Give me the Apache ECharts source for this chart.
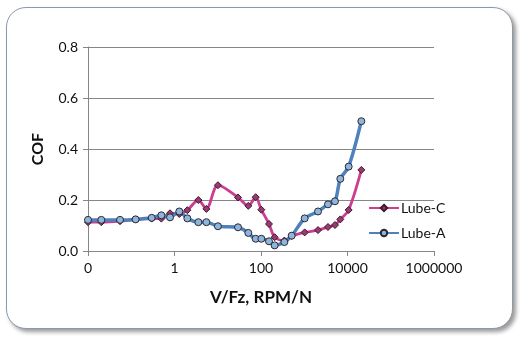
<!DOCTYPE html>
<html>
<head>
<meta charset="utf-8">
<script src="https://cdn.jsdelivr.net/npm/echarts@6/dist/echarts.min.js"></script>
<style>
html,body{margin:0;padding:0;background:#fff;}
#wrap{position:relative;width:521px;height:337px;overflow:hidden;}
#box{position:absolute;left:6px;top:7px;width:505px;height:320px;border:1px solid #8c99a6;border-radius:20px;box-shadow:3px 3px 4px #9a9a9a;background:#fff;}
#chart{position:absolute;left:0;top:0;width:521px;height:337px;}
</style>
</head>
<body>
<div id="wrap"><div id="box"></div><div id="chart"></div></div>
<script>
var xValues = [0.01, 0.0203, 0.055, 0.126, 0.297, 0.497, 0.787, 1.29, 1.98, 3.56, 5.45, 10.1, 29.4, 50.9, 75.3, 101.8, 153, 207, 347, 512, 1023, 2080, 3540, 5140, 6820, 10640, 20900];
var lubeC = [0.113, 0.113, 0.117, 0.124, 0.127, 0.127, 0.148, 0.145, 0.160, 0.200, 0.165, 0.258, 0.210, 0.177, 0.211, 0.162, 0.106, 0.054, 0.041, 0.059, 0.073, 0.082, 0.094, 0.102, 0.124, 0.161, 0.318];
var lubeA = [0.122, 0.122, 0.122, 0.124, 0.130, 0.140, 0.132, 0.155, 0.128, 0.113, 0.113, 0.097, 0.093, 0.071, 0.048, 0.048, 0.038, 0.022, 0.035, 0.060, 0.128, 0.155, 0.183, 0.195, 0.283, 0.331, 0.509];
var yTicks = [0, 0.2, 0.4, 0.6, 0.8];
var xTickLabels = {'0.01':'0','1':'1','100':'100','10000':'10000','1000000':'1000000'};

function pairs(xs, ys){ return xs.map(function(x,i){ return [x, ys[i]]; }); }

var font = 'Lato, "Open Sans", sans-serif';
var chart = echarts.init(document.getElementById('chart'), null, {renderer:'canvas'});
chart.setOption({
  backgroundColor: 'transparent',
  animation: false,
  grid: {left: 88, top: 47, width: 346, height: 204, containLabel: false},
  legend: {
    orient: 'vertical', left: 368, top: 201, padding: 0, itemWidth: 30, itemHeight: 8, itemGap: 11,
    textStyle: {fontFamily: font, fontSize: 14, color: '#111', padding: [0,0,0,-3]},
    data: ['Lube-C', 'Lube-A']
  },
  xAxis: {
    type: 'log', logBase: 100, min: 0.01, max: 1000000,
    name: 'V/Fz, RPM/N', nameLocation: 'middle', nameGap: 38,
    nameTextStyle: {fontFamily: font, fontSize: 17, fontWeight: 'bold', color: '#111'},
    axisLine: {lineStyle: {color: '#868686', width: 1}},
    axisTick: {show: true, length: 5, lineStyle: {color: '#868686'}},
    minorTick: {show: false},
    splitLine: {show: false},
    axisLabel: {fontFamily: font, fontSize: 14, color: '#111', margin: 10,
      formatter: function(v){ var r = Math.round(v*100)/100; var k = String(r); return xTickLabels[k] !== undefined ? xTickLabels[k] : (r < 1 ? '0' : String(Math.round(r))); }}
  },
  yAxis: {
    type: 'value', min: yTicks[0], max: yTicks[yTicks.length-1], interval: 0.2,
    name: 'COF', nameLocation: 'middle', nameGap: 42, nameRotate: 90,
    nameTextStyle: {fontFamily: font, fontSize: 16, fontWeight: 'bold', color: '#111'},
    axisLine: {show: true, lineStyle: {color: '#868686'}},
    axisTick: {show: true, length: 5, lineStyle: {color: '#868686'}},
    splitLine: {show: true, lineStyle: {color: '#868686', width: 1}},
    axisLabel: {fontFamily: font, fontSize: 14, color: '#111', margin: 10,
      formatter: function(v){ return v.toFixed(1); }}
  },
  series: [
    {
      name: 'Lube-C', type: 'line', smooth: 0.3, data: pairs(xValues, lubeC),
      symbol: 'diamond', symbolSize: 7,
      lineStyle: {color: '#cc3d8f', width: 2.8},
      itemStyle: {color: '#9a3a74', borderColor: '#3a1a2a', borderWidth: 1}
    },
    {
      name: 'Lube-A', type: 'line', smooth: 0.3, data: pairs(xValues, lubeA),
      symbol: 'circle', symbolSize: 7,
      lineStyle: {color: '#4f81bd', width: 3.5},
      itemStyle: {color: '#8fb4e0', borderColor: '#2a2a2a', borderWidth: 1}
    }
  ]
});
</script>
</body>
</html>
